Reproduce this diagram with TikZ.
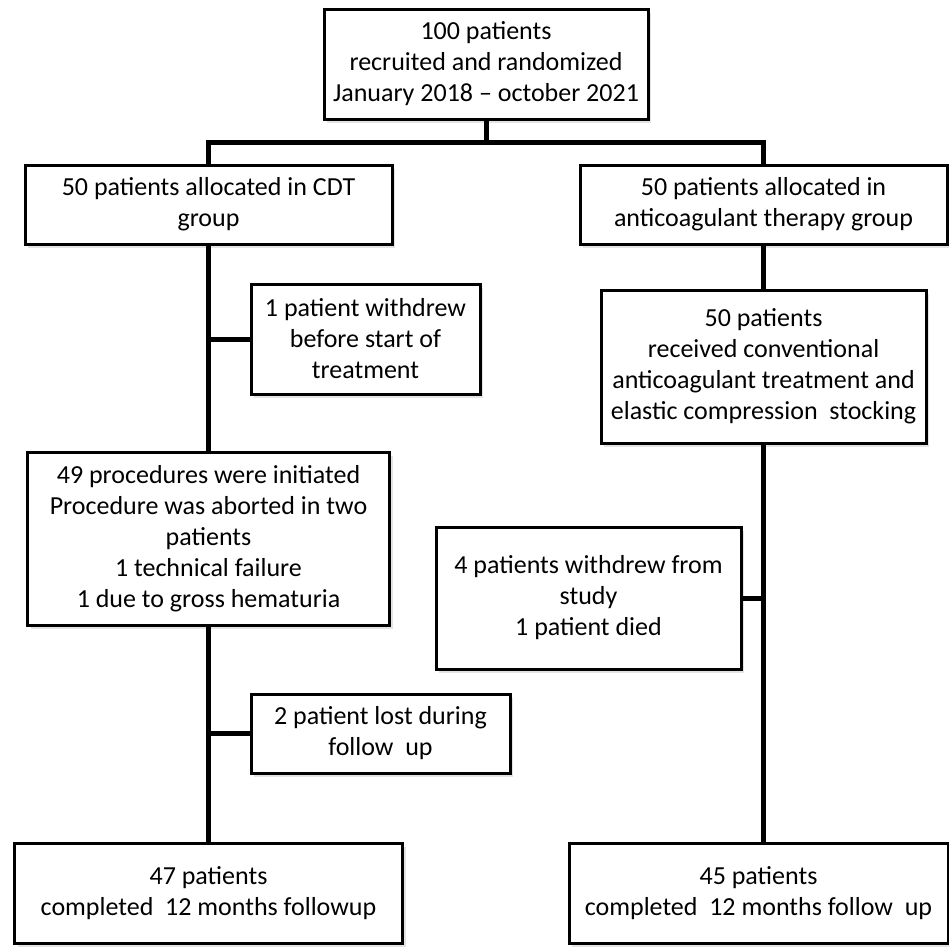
\documentclass[tikz,border=0pt]{standalone}
\usepackage{fontspec}
\setmainfont{Carlito}
\usetikzlibrary{shadows}
\tikzset{
  box/.style={draw=black, line width=3pt, fill=white, inner sep=0pt, align=center,
    font=\fontsize{26}{31}\selectfont,
    drop shadow={opacity=0.22, shadow xshift=3pt, shadow yshift=-4pt}},
  link/.style={line width=5pt, line cap=rect}
}
\begin{document}
\begin{tikzpicture}[x=1pt,y=1pt]
\useasboundingbox (0,0) rectangle (949,-948);
% stub connectors first (behind boxes)
\node[box, minimum width=324, minimum height=110] (top) at (486,-64)
  {100 patients\\recruited and randomized\\January 2018 -- october 2021};
\node[box, minimum width=367, minimum height=79] (L1) at (208.5,-204.5)
  {50 patients allocated in CDT\\group};
\node[box, minimum width=367, minimum height=79] (R1) at (763.5,-204.5)
  {50 patients allocated in\\anticoagulant therapy group};
\node[box, minimum width=229, minimum height=110] (W1) at (365.5,-339)
  {1 patient withdrew\\before start of\\treatment};
\node[box, minimum width=325, minimum height=153] (R2) at (763.5,-366.5)
  {50 patients\\received conventional\\anticoagulant treatment and\\elastic compression\ \ stocking};
\node[box, minimum width=362, minimum height=173] (L2) at (208.5,-538.5)
  {49 procedures were initiated\\Procedure was aborted in two\\patients\\1 technical failure\\1 due to gross hematuria};
\node[box, minimum width=305, minimum height=142] (W2) at (588.5,-598)
  {4 patients withdrew from\\study\\1 patient died};
\node[box, minimum width=259, minimum height=79] (W3) at (380.5,-733.5)
  {2 patient lost during\\follow\ \ up};
\node[box, minimum width=388, minimum height=100] (B1) at (208.5,-893)
  {47 patients\\completed\ \ 12 months followup};
\node[box, minimum width=379, minimum height=100] (B2) at (758.5,-893)
  {45 patients\\completed\ \ 12 months follow\ \ up};
% connectors
\coordinate (split) at (486,-142);
\draw[link] (top.south) -- (split);
\draw[link] (L1.north) |- (split) -| (R1.north);
\draw[link] (L1.south) -- (L2.north);
\draw[link] (L2.south) -- (B1.north);
\draw[link] (L1.south |- W1.west) -- (W1.west);
\draw[link] (L1.south |- W3.west) -- (W3.west);
\draw[link] (R1.south) -- (R2.north);
\draw[link] (R2.south) -- (R2.south |- B2.north);
\draw[link] (R2.south |- W2.east) -- (W2.east);
\end{tikzpicture}
\end{document}
